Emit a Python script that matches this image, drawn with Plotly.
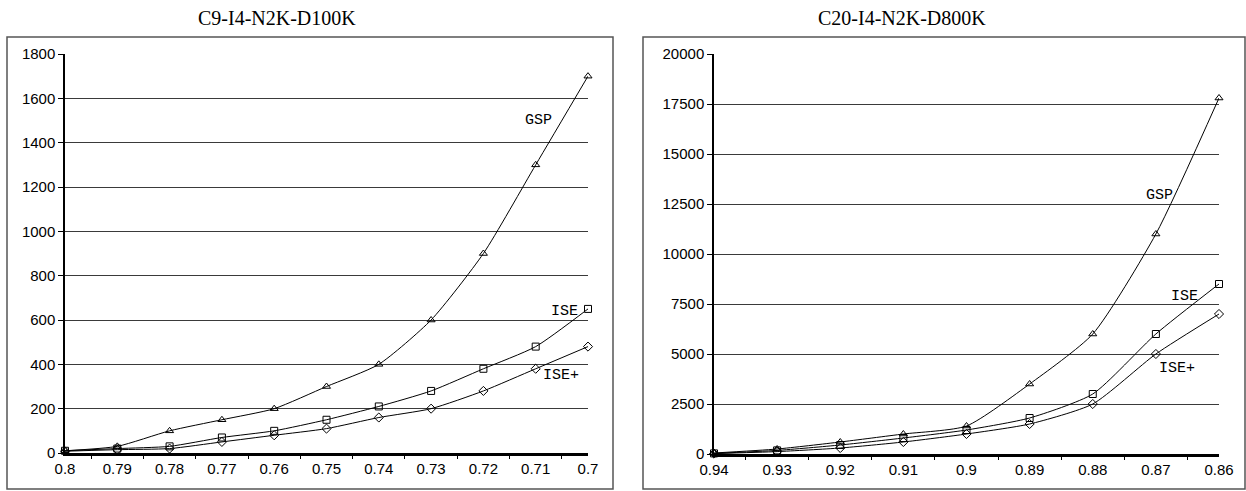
import plotly.graph_objects as go

W, H = 1246, 491

# Left chart data
x_left = [0.8, 0.79, 0.78, 0.77, 0.76, 0.75, 0.74, 0.73, 0.72, 0.71, 0.7]
gsp_left = [10, 30, 100, 150, 200, 300, 400, 600, 900, 1300, 1700]
ise_left = [10, 20, 30, 70, 100, 150, 210, 280, 380, 480, 650]
iseplus_left = [8, 15, 20, 50, 80, 110, 160, 200, 280, 380, 480]

# Right chart data
x_right = [0.94, 0.93, 0.92, 0.91, 0.9, 0.89, 0.88, 0.87, 0.86]
gsp_right = [50, 250, 600, 1000, 1400, 3500, 6000, 11000, 17800]
ise_right = [30, 180, 450, 800, 1200, 1800, 3000, 6000, 8500]
iseplus_right = [20, 120, 300, 600, 1000, 1500, 2500, 5000, 7000]

titles = ["C9-I4-N2K-D100K", "C20-I4-N2K-D800K"]
series_names = ["GSP", "ISE", "ISE+"]
symbols = ["triangle-up-open", "square-open", "diamond-open"]

fig = go.Figure()

def px_x(p):
    return p / W

def px_y(p):
    return 1 - p / H

panels = [
    dict(x=x_left, ys=[gsp_left, ise_left, iseplus_left], xa="x", ya="y",
         dom_x=[65, 588], dom_y=[453, 54], yr=[0, 1800], dt=200,
         box=[7, 37, 613, 489]),
    dict(x=x_right, ys=[gsp_right, ise_right, iseplus_right], xa="x2", ya="y2",
         dom_x=[714, 1219], dom_y=[454, 54], yr=[0, 20000], dt=2500,
         box=[643, 37, 1245, 489]),
]

tick_font = dict(family="Liberation Sans, Arial", size=15, color="black")

for i, p in enumerate(panels):
    for name, ys, sym in zip(series_names, p["ys"], symbols):
        fig.add_trace(go.Scatter(
            x=p["x"], y=ys, name=name, xaxis=p["xa"], yaxis=p["ya"],
            mode="lines+markers", line=dict(color="black", width=1, shape="spline", smoothing=0.6),
            marker=dict(symbol=sym, size=7, color="black", line=dict(width=1)),
            showlegend=False, cliponaxis=False))

    xs = p["x"]
    mids = [(xs[k] + xs[k + 1]) / 2 for k in range(len(xs) - 1)]
    axkey = "xaxis" if i == 0 else "xaxis2"
    aykey = "yaxis" if i == 0 else "yaxis2"
    fig.layout[axkey] = dict(
        domain=[px_x(p["dom_x"][0]), px_x(p["dom_x"][1])],
        range=[xs[0], xs[-1]], anchor=p["ya"],
        tickvals=xs, ticktext=[f"{v:g}" for v in xs],
        ticks="", showgrid=False, zeroline=False, automargin=False,
        showline=True, linecolor="black", linewidth=2.5,
        tickfont=tick_font,
        minor=dict(tickvals=mids, ticks="outside", ticklen=3, tickcolor="black", tickwidth=1, showgrid=False),
        fixedrange=True,
    )
    fig.layout[aykey] = dict(
        domain=[px_y(p["dom_y"][0]), px_y(p["dom_y"][1])],
        range=p["yr"], anchor=p["xa"], automargin=False,
        tick0=0, dtick=p["dt"], tickformat="d", ticks="outside", ticklen=5, tickcolor="black",
        showgrid=True, gridcolor="#3a3a3a", gridwidth=1,
        zeroline=False, showline=True, linecolor="black", linewidth=1.5,
        tickfont=tick_font,
        fixedrange=True,
    )
    b = p["box"]
    fig.add_shape(type="rect", xref="paper", yref="paper",
                  x0=px_x(b[0]), x1=px_x(b[2]), y0=px_y(b[3]), y1=px_y(b[1]),
                  line=dict(color="#555555", width=1.5), layer="below")

# Titles
title_font = dict(family="Liberation Serif, DejaVu Serif", size=20, color="black")
fig.add_annotation(text=titles[0], xref="paper", yref="paper", x=px_x(277), y=px_y(18),
                   xanchor="center", yanchor="middle", showarrow=False, font=title_font)
fig.add_annotation(text=titles[1], xref="paper", yref="paper", x=px_x(902), y=px_y(18),
                   xanchor="center", yanchor="middle", showarrow=False, font=title_font)

# Series labels
lab_font = dict(family="Liberation Mono, Courier New, monospace", size=15, color="black")
labels = [
    ("x", "y", 0.7095, 1500, "GSP"),
    ("x", "y", 0.7044, 638, "ISE"),
    ("x", "y", 0.7051, 350, "ISE+"),
    ("x2", "y2", 0.8695, 12950, "GSP"),
    ("x2", "y2", 0.8654, 7900, "ISE"),
    ("x2", "y2", 0.8667, 4270, "ISE+"),
]
for xr, yr, xv, yv, t in labels:
    fig.add_annotation(text=t, xref=xr, yref=yr, x=xv, y=yv, xanchor="center", yanchor="middle",
                       showarrow=False, font=lab_font)

fig.update_layout(
    width=W, height=H, margin=dict(l=0, r=0, t=0, b=0, pad=0, autoexpand=False),
    paper_bgcolor="white", plot_bgcolor="white",
)

fig.write_html("out.html", config={"displayModeBar": False},
               post_script="document.body.style.margin='0px';document.body.style.overflow='hidden';")
